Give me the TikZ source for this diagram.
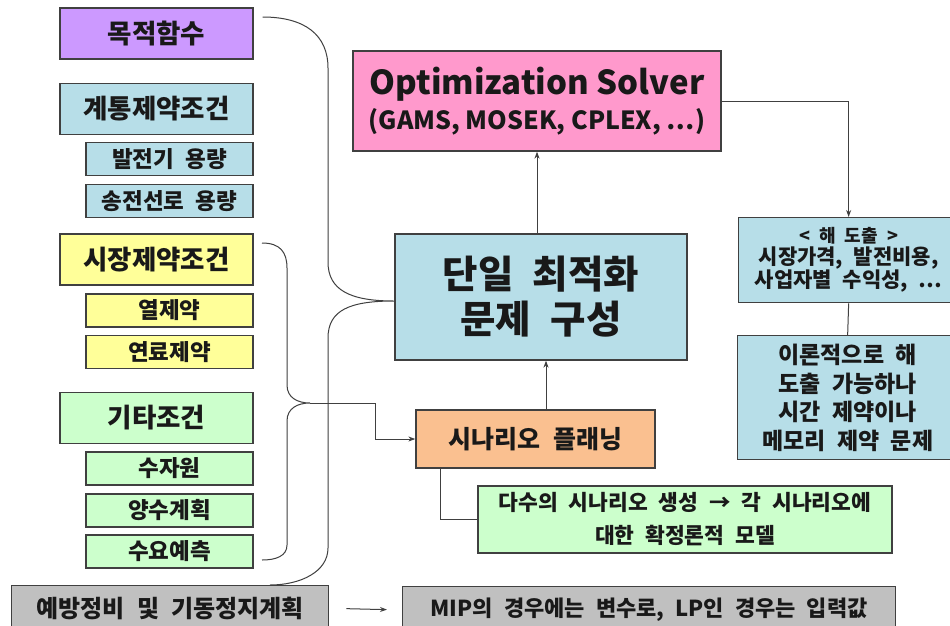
\documentclass[tikz,border=0pt]{standalone}
\usepackage{fontspec}
\setmainfont{Noto Sans CJK KR}[WordSpace=2.2]
\newfontfamily\latinfont{Noto Sans CJK KR}
\usetikzlibrary{arrows.meta,calc}
\definecolor{cpurple}{HTML}{CC99FF}
\definecolor{cblue}{HTML}{B7DEE8}
\definecolor{cyellow}{HTML}{FFFF99}
\definecolor{cgreen}{HTML}{CCFFCC}
\definecolor{cgray}{HTML}{C0C0C0}
\definecolor{cpink}{HTML}{FF99CC}
\definecolor{corange}{HTML}{FAC090}
\definecolor{cedge}{HTML}{404040}
\newcommand{\fs}[2]{\fontsize{#1}{#2}\selectfont\bfseries}
\tikzset{
  box/.style={draw=cedge, line width=1.3pt, inner sep=0pt, align=center, text=black!90},
  headbox/.style={box, minimum width=193pt, minimum height=51pt, font=\fs{26.5}{30}},
  subbox/.style={box, minimum width=167pt, minimum height=33pt, font=\fs{22.5}{26}},
  link/.style={draw=black!75, line width=1pt},
  arr/.style={link, -{Stealth[length=7pt,width=5pt]}},
}
\begin{document}
\begin{tikzpicture}[x=1pt, y=-1pt]
\useasboundingbox (0,0) rectangle (950,625);
\clip (0,0) rectangle (950,625);
\fill[white] (0,0) rectangle (950,625);

% left column: condition groups
\node[headbox, fill=cpurple] (obj)  at (156.5,33.5) {목적함수};
\node[headbox, fill=cblue]   (grid) at (156.5,109) {계통제약조건};
\node[subbox, fill=cblue]    (gen)  at (169.5,159) {발전기 용량};
\node[subbox, fill=cblue]    (line) at (169.5,201) {송전선로 용량};
\node[headbox, fill=cyellow] (mkt)  at (156.5,259.5) {시장제약조건};
\node[subbox, fill=cyellow]  (heat) at (169.5,310.5) {열제약};
\node[subbox, fill=cyellow]  (fuel) at (169.5,352) {연료제약};
\node[headbox, fill=cgreen]  (etc)  at (156.5,418) {기타조건};
\node[subbox, fill=cgreen]   (hydro) at (169.5,468.5) {수자원};
\node[subbox, fill=cgreen]   (pump) at (169.5,510.5) {양수계획};
\node[subbox, fill=cgreen]   (load) at (169.5,551.5) {수요예측};
\node[box, fill=cgray, anchor=north west, minimum width=317pt, minimum height=46pt,
      font=\fs{24}{28}] (maint) at (11,585) {예방정비 및 기동정지계획};
\node[box, fill=cgray, anchor=north west, minimum width=493pt, minimum height=46pt,
      font=\fs{22}{26}] (mip) at (402,586) {MIP의 경우에는 변수로, LP인 경우는 입력값};

% centre: problem, solver, scenarios
\node[box, fill=cpink, minimum width=368pt, minimum height=100pt] (solver) at (537,101)
  {{\latinfont\fs{33}{38}Optimization Solver}\\[6pt]{\latinfont\fs{25}{28}(GAMS, MOSEK, CPLEX, …)}};
\node[box, fill=cblue, minimum width=292pt, minimum height=126pt, font=\fs{38.5}{45}] (single) at (541,297)
  {단일 최적화\\문제 구성};
\node[box, fill=corange, minimum width=239pt, minimum height=58pt, font=\fs{25}{30}] (scen) at (535.5,439)
  {시나리오 플래닝};
\node[box, fill=cgreen, minimum width=414pt, minimum height=67pt, font=\fs{21.5}{33}] (multi) at (685,519.5)
  {다수의 시나리오 생성 → 각 시나리오에\\대한 확정론적 모델};

% right: results
\node[box, fill=cblue, anchor=north west, minimum width=220pt, minimum height=85pt] (sol) at (738,217)
  {{\fs{18}{20}< 해 도출 >}\\[1pt]{\fs{21}{24}시장가격, 발전비용,}\\{\fs{21}{24}사업자별 수익성, …}};
\node[box, fill=cblue, anchor=north west, minimum width=220pt, minimum height=124pt, font=\fs{23}{28.5}] (limit) at (737,335)
  {이론적으로 해\\도출 가능하나\\시간 제약이나\\메모리 제약 문제};

% connectors
\draw[arr] (solver.south |- single.north) -- (solver.south);
\draw[arr] ([xshift=10.5pt]scen.north) -- ([xshift=10.5pt]scen.north |- single.south);
\draw[arr] (solver.east) -| (sol.north);
\draw[link] (sol.south) -- (limit.north);
\draw[link] ([xshift=-95.5pt]scen.south) |- (multi.west);

% large brace gathering all conditions into the single problem
\coordinate (tip1) at (394,301);
\draw[link] ([xshift=9pt]obj.north east |- 0,17) .. controls (305,17) and (328,35) .. (328,68)
  -- (328,262) .. controls (328,290) and (350,301) .. (tip1)
  .. controls (350,301) and (328,310) .. (328,338)
  -- (328,548) .. controls (328,572) and (300,585) .. (270,585);

% brace over market and other conditions, feeding the scenario planning
\coordinate (tip2) at (310,403);
\draw[link] (262,243) .. controls (280,243) and (287,252) .. (287,268)
  -- (287,385) .. controls (287,398) and (298,403) .. (tip2)
  .. controls (298,403) and (287,408) .. (287,421)
  -- (287,545) .. controls (287,556) and (276,560) .. (262,560);
\draw[arr] (tip2) -- (375,403) |- (scen.west);

% maintenance planning maps to MIP/LP treatment
\draw[arr] ([xshift=17pt]maint.east) -- ([xshift=-15pt]mip.west);
\end{tikzpicture}
\end{document}
